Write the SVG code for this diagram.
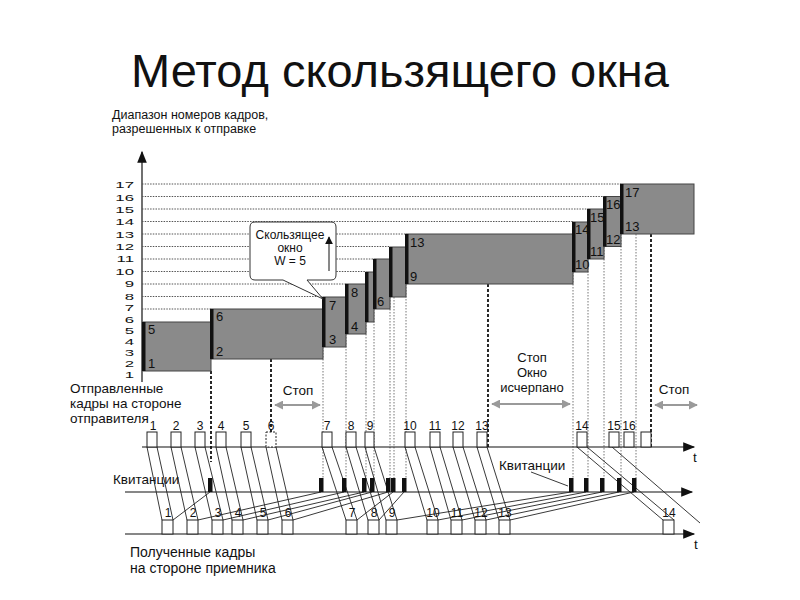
<svg xmlns="http://www.w3.org/2000/svg" width="800" height="600" viewBox="0 0 800 600">
<defs>
<style>
text{font-family:"Liberation Sans",Arial,sans-serif;fill:#111}
.t{font-size:47px}
.ax{font-size:12px;text-anchor:end}
.lb{font-size:12px;text-anchor:middle}
.bl{font-size:13px}
.cap{font-size:13.5px}
.kv{font-size:13.5px}
.sm{font-size:12.5px}
.co{font-size:12px;text-anchor:middle}
.grid{stroke:#555;stroke-width:1;stroke-dasharray:1.5 1.2}
.vd{stroke:#666;stroke-width:0.9;stroke-dasharray:1.5 1.5}
.sd{stroke:#111;stroke-width:1.8;stroke-dasharray:3 2}
.box{fill:#8a8a8a;stroke:#444;stroke-width:1}
.bar{fill:#111}
.ln{stroke:#222;stroke-width:0.9;fill:none}
.axl{stroke:#111;stroke-width:1.2;fill:none}
.fr{fill:#fff;stroke:#222;stroke-width:1}
.ack{fill:#111}
.gr{stroke:#9a9a9a;stroke-width:2;fill:none;marker-start:url(#ga);marker-end:url(#ga)}
</style>
<marker id="ah" viewBox="0 0 10 10" refX="9" refY="5" markerWidth="8" markerHeight="8" markerUnits="userSpaceOnUse" orient="auto"><path d="M0,0 L10,5 L0,10 z" fill="#111"/></marker>
<marker id="ahb" viewBox="0 0 10 10" refX="9" refY="5" markerWidth="14" markerHeight="12" markerUnits="userSpaceOnUse" orient="auto"><path d="M0,1 L10,5 L0,9 z" fill="#111"/></marker>
<marker id="ga" viewBox="0 0 10 10" refX="9" refY="5" markerWidth="9" markerHeight="9" markerUnits="userSpaceOnUse" orient="auto-start-reverse"><path d="M0,0 L10,5 L0,10 z" fill="#9a9a9a"/></marker>
</defs>
<rect width="800" height="600" fill="#fff"/>

<text class="t" x="400" y="87" text-anchor="middle">Метод скользящего окна</text>

<g id="y-axis">
<text class="sm" x="112" y="119">Диапазон номеров кадров,</text>
<text class="sm" x="112" y="133">разрешенных к отправке</text>
<line class="axl" x1="142" y1="382" x2="142" y2="152" marker-end="url(#ahb)"/>
<text class="ax" transform="translate(134,187.5) scale(1.4,0.8)">17</text>
<text class="ax" transform="translate(134,200.5) scale(1.4,0.8)">16</text>
<text class="ax" transform="translate(134,212.5) scale(1.4,0.8)">15</text>
<text class="ax" transform="translate(134,225) scale(1.4,0.8)">14</text>
<text class="ax" transform="translate(134,237.5) scale(1.4,0.8)">13</text>
<text class="ax" transform="translate(134,249.5) scale(1.4,0.8)">12</text>
<text class="ax" transform="translate(134,262) scale(1.4,0.8)">11</text>
<text class="ax" transform="translate(134,274.5) scale(1.4,0.8)">10</text>
<text class="ax" transform="translate(134,287) scale(1.4,0.8)">9</text>
<text class="ax" transform="translate(134,299.5) scale(1.4,0.8)">8</text>
<text class="ax" transform="translate(134,311) scale(1.4,0.8)">7</text>
<text class="ax" transform="translate(134,323) scale(1.4,0.8)">6</text>
<text class="ax" transform="translate(134,334) scale(1.4,0.8)">5</text>
<text class="ax" transform="translate(134,345) scale(1.4,0.8)">4</text>
<text class="ax" transform="translate(134,356) scale(1.4,0.8)">3</text>
<text class="ax" transform="translate(134,367) scale(1.4,0.8)">2</text>
<text class="ax" transform="translate(134,378) scale(1.4,0.8)">1</text>
</g>

<g id="grid">
<line class="grid" x1="142" y1="184" x2="621" y2="184"/>
<line class="grid" x1="142" y1="196.5" x2="604" y2="196.5"/>
<line class="grid" x1="142" y1="209" x2="588" y2="209"/>
<line class="grid" x1="142" y1="221.5" x2="573" y2="221.5"/>
<line class="grid" x1="142" y1="234" x2="406" y2="234"/>
<line class="grid" x1="142" y1="246.5" x2="390" y2="246.5"/>
<line class="grid" x1="142" y1="259" x2="374" y2="259"/>
<line class="grid" x1="142" y1="271.5" x2="366" y2="271.5"/>
<line class="grid" x1="142" y1="284" x2="346" y2="284"/>
<line class="grid" x1="142" y1="296.5" x2="323" y2="296.5"/>
<line class="grid" x1="142" y1="309" x2="211" y2="309"/>
</g>

<g id="verticals">
<line class="vd" x1="323" y1="347" x2="323" y2="478"/>
<line class="vd" x1="346" y1="334" x2="346" y2="478"/>
<line class="vd" x1="366" y1="322" x2="366" y2="478"/>
<line class="vd" x1="374" y1="309" x2="374" y2="478"/>
<line class="vd" x1="390" y1="297" x2="390" y2="478"/>
<line class="vd" x1="394" y1="297" x2="394" y2="478"/>
<line class="vd" x1="406" y1="284" x2="406" y2="478"/>
<line class="vd" x1="573" y1="272" x2="573" y2="478"/>
<line class="vd" x1="588" y1="259" x2="588" y2="478"/>
<line class="vd" x1="604" y1="247" x2="604" y2="478"/>
<line class="vd" x1="621" y1="234" x2="621" y2="478"/>
<line class="vd" x1="636" y1="234" x2="636" y2="478"/>
<line class="sd" x1="211" y1="371" x2="211" y2="462"/>
<line class="sd" x1="271" y1="359" x2="271" y2="447"/>
<line class="sd" x1="488" y1="284" x2="488" y2="447"/>
<line class="sd" x1="651" y1="234" x2="651" y2="447"/>
</g>

<g id="win-1-5"><rect class="box" x="143" y="322" width="68" height="49"/><rect class="bar" x="142" y="322" width="3.5" height="49"/><text class="bl" x="148" y="334">5</text><text class="bl" x="148" y="368">1</text></g>
<g id="win-2-6"><rect class="box" x="211" y="309" width="112" height="50"/><rect class="bar" x="210" y="309" width="3.5" height="50"/><text class="bl" x="216" y="321">6</text><text class="bl" x="216" y="356">2</text></g>
<g id="win-3-7"><rect class="box" x="323" y="297" width="23" height="50"/><rect class="bar" x="322" y="297" width="3.5" height="50"/><text class="bl" x="329" y="310">7</text><text class="bl" x="329" y="344">3</text></g>
<g id="win-4-8"><rect class="box" x="346" y="284" width="20" height="50"/><rect class="bar" x="345" y="284" width="3.5" height="50"/><text class="bl" x="351" y="297">8</text><text class="bl" x="351" y="331">4</text></g>
<g id="win-5-9"><rect class="box" x="366" y="272" width="8" height="50"/><rect class="bar" x="365" y="272" width="3.5" height="50"/></g>
<g id="win-6-10"><rect class="box" x="374" y="259" width="16" height="50"/><rect class="bar" x="373" y="259" width="3.5" height="50"/><text class="bl" x="377" y="306">6</text></g>
<g id="win-7-11"><rect class="box" x="390" y="247" width="16" height="50"/><rect class="bar" x="389" y="247" width="3.5" height="50"/></g>
<g id="win-9-13"><rect class="box" x="406" y="234" width="167" height="50"/><rect class="bar" x="405" y="234" width="3.5" height="50"/><text class="bl" x="410" y="247">13</text><text class="bl" x="410" y="281">9</text></g>
<g id="win-10-14"><rect class="box" x="573" y="222" width="15" height="50"/><rect class="bar" x="572" y="222" width="3.5" height="50"/><text class="bl" x="575" y="234">14</text><text class="bl" x="575" y="269">10</text></g>
<g id="win-11-15"><rect class="box" x="588" y="209" width="16" height="50"/><rect class="bar" x="587" y="209" width="3.5" height="50"/><text class="bl" x="590" y="222">15</text><text class="bl" x="590" y="256">11</text></g>
<g id="win-12-16"><rect class="box" x="604" y="196.5" width="17" height="50"/><rect class="bar" x="603" y="196.5" width="3.5" height="50"/><text class="bl" x="606" y="209">16</text><text class="bl" x="606" y="244">12</text></g>
<g id="win-13-17"><rect class="box" x="621" y="184" width="73" height="50"/><rect class="bar" x="620" y="184" width="3.5" height="50"/><text class="bl" x="625" y="197">17</text><text class="bl" x="625" y="231">13</text></g>

<g id="callout">
<path d="M255,222 H331 Q336,222 336,227 V275 Q336,280 331,280 H307 L323,299 L283,280 H255 Q250,280 250,275 V227 Q250,222 255,222 Z" fill="#fff" stroke="#333" stroke-width="1"/>
<text class="co" x="290" y="239">Скользящее</text>
<text class="co" x="290" y="252">окно</text>
<text class="co" x="290" y="265">W = 5</text>
<line x1="329" y1="271" x2="329" y2="237" stroke="#111" stroke-width="1" marker-end="url(#ah)"/>
</g>

<g id="labels">
<text class="cap" x="70" y="393">Отправленные</text>
<text class="cap" x="70" y="408">кадры на стороне</text>
<text class="cap" x="70" y="423">отправителя</text>
<text class="kv" x="113" y="484">Квитанции</text>
<text class="kv" x="499" y="470">Квитанции</text>
<text class="cap" x="130" y="557" style="font-size:14px">Полученные кадры</text>
<text class="cap" x="130" y="573" style="font-size:14px">на стороне приемника</text>
<text class="cap" x="298" y="395" text-anchor="middle">Стоп</text>
<text class="cap" x="532" y="362" text-anchor="middle" style="font-size:13px">Стоп</text>
<text class="cap" x="532" y="377" text-anchor="middle" style="font-size:13px">Окно</text>
<text class="cap" x="532" y="392" text-anchor="middle" style="font-size:13px">исчерпано</text>
<text class="cap" x="674" y="394" text-anchor="middle">Стоп</text>
<text class="cap" x="693" y="462">t</text>
<text class="cap" x="694" y="549">t</text>
</g>

<g id="stop-arrows">
<line class="gr" x1="275" y1="405" x2="320" y2="405"/>
<line class="gr" x1="492" y1="404" x2="570" y2="404"/>
<line class="gr" x1="655" y1="405" x2="697" y2="405"/>
</g>

<g id="time-axes">
<line class="axl" x1="142" y1="447" x2="694" y2="447" marker-end="url(#ahb)"/>
<line class="axl" x1="125" y1="492" x2="692" y2="492" marker-end="url(#ahb)"/>
<line class="axl" x1="125" y1="534" x2="694" y2="534" marker-end="url(#ahb)"/>
</g>

<g id="connectors">
<path class="ln" d="M147,447 L162,520 M157,447 L173,520"/>
<path class="ln" d="M171,447 L187,520 M181,447 L198,520"/>
<path class="ln" d="M195,447 L212,520 M205,447 L223,520"/>
<path class="ln" d="M216,447 L232,520 M226,447 L243,520"/>
<path class="ln" d="M241,447 L257,520 M251,447 L268,520"/>
<path class="ln" d="M266,447 L282,520 M276,447 L293,520"/>
<path class="ln" d="M322,447 L346,520 M332,447 L357,520"/>
<path class="ln" d="M346,447 L368,520 M356,447 L379,520"/>
<path class="ln" d="M365,447 L386,520 M374,447 L397,520"/>
<path class="ln" d="M405,447 L427,520 M415,447 L438,520"/>
<path class="ln" d="M430,447 L451,520 M440,447 L462,520"/>
<path class="ln" d="M453,447 L475,520 M463,447 L486,520"/>
<path class="ln" d="M477,447 L499,520 M487,447 L510,520"/>
<path class="ln" d="M577,447 L663,520 M587,447 L674,520"/>
<path class="ln" d="M612,447 L700,523"/>
<path class="ln" d="M173,520 L210,492"/>
<path class="ln" d="M198,520 L321,492"/>
<path class="ln" d="M223,520 L344,492"/>
<path class="ln" d="M243,520 L364,492"/>
<path class="ln" d="M268,520 L372,492"/>
<path class="ln" d="M293,520 L388,492"/>
<path class="ln" d="M357,520 L393,492"/>
<path class="ln" d="M379,520 L404,492"/>
<path class="ln" d="M397,520 L571,492"/>
<path class="ln" d="M438,520 L586,492"/>
<path class="ln" d="M462,520 L602,492"/>
<path class="ln" d="M486,520 L619,492"/>
<path class="ln" d="M510,520 L634,492"/>
<path class="ln" d="M531,472 L568,486"/>
</g>

<g id="acks">
<rect class="ack" x="208" y="478" width="4.5" height="14"/>
<rect class="ack" x="319" y="478" width="4.5" height="14"/>
<rect class="ack" x="342" y="478" width="4.5" height="14"/>
<rect class="ack" x="362" y="478" width="4.5" height="14"/>
<rect class="ack" x="370" y="478" width="4.5" height="14"/>
<rect class="ack" x="386" y="478" width="4.5" height="14"/>
<rect class="ack" x="391" y="478" width="4.5" height="14"/>
<rect class="ack" x="402" y="478" width="4.5" height="14"/>
<rect class="ack" x="569" y="478" width="4.5" height="14"/>
<rect class="ack" x="584" y="478" width="4.5" height="14"/>
<rect class="ack" x="600" y="478" width="4.5" height="14"/>
<rect class="ack" x="617" y="478" width="4.5" height="14"/>
<rect class="ack" x="632" y="478" width="4.5" height="14"/>
</g>

<g id="sent-frames">
<g id="s1"><rect class="fr" x="147" y="432" width="10" height="15"/><text class="lb" x="153" y="430">1</text></g>
<g id="s2"><rect class="fr" x="171" y="432" width="10" height="15"/><text class="lb" x="176" y="430">2</text></g>
<g id="s3"><rect class="fr" x="195" y="432" width="10" height="15"/><text class="lb" x="200" y="430">3</text></g>
<g id="s4"><rect class="fr" x="216" y="432" width="10" height="15"/><text class="lb" x="221" y="430">4</text></g>
<g id="s5"><rect class="fr" x="241" y="432" width="10" height="15"/><text class="lb" x="246" y="430">5</text></g>
<g id="s6"><rect class="fr" x="266" y="432" width="10" height="15" stroke-dasharray="2 1.5"/><text class="lb" x="271" y="430">6</text></g>
<g id="s7"><rect class="fr" x="322" y="432" width="10" height="15"/><text class="lb" x="327" y="430">7</text></g>
<g id="s8"><rect class="fr" x="346" y="432" width="10" height="15"/><text class="lb" x="351" y="430">8</text></g>
<g id="s9"><rect class="fr" x="365" y="432" width="9" height="15"/><text class="lb" x="370" y="430">9</text></g>
<g id="s10"><rect class="fr" x="405" y="432" width="10" height="15"/><text class="lb" x="410" y="430">10</text></g>
<g id="s11"><rect class="fr" x="430" y="432" width="10" height="15"/><text class="lb" x="435" y="430">11</text></g>
<g id="s12"><rect class="fr" x="453" y="432" width="10" height="15"/><text class="lb" x="458" y="430">12</text></g>
<g id="s13"><rect class="fr" x="477" y="432" width="10" height="15"/><text class="lb" x="482" y="430">13</text></g>
<g id="s14"><rect class="fr" x="577" y="432" width="10" height="15"/><text class="lb" x="582" y="430">14</text></g>
<g id="s15"><rect class="fr" x="609" y="432" width="10" height="15"/><text class="lb" x="614" y="430">15</text></g>
<g id="s16"><rect class="fr" x="624" y="432" width="10" height="15"/><text class="lb" x="629" y="430">16</text></g>
<g id="s17"><rect class="fr" x="641" y="432" width="10" height="15"/></g>
</g>

<g id="received-frames">
<g id="r1"><rect class="fr" x="162" y="520" width="11" height="14"/><text class="lb" x="168" y="517">1</text></g>
<g id="r2"><rect class="fr" x="187" y="520" width="11" height="14"/><text class="lb" x="193" y="517">2</text></g>
<g id="r3"><rect class="fr" x="212" y="520" width="11" height="14"/><text class="lb" x="218" y="517">3</text></g>
<g id="r4"><rect class="fr" x="232" y="520" width="11" height="14"/><text class="lb" x="238" y="517">4</text></g>
<g id="r5"><rect class="fr" x="257" y="520" width="11" height="14"/><text class="lb" x="263" y="517">5</text></g>
<g id="r6"><rect class="fr" x="282" y="520" width="11" height="14"/><text class="lb" x="288" y="517">6</text></g>
<g id="r7"><rect class="fr" x="346" y="520" width="11" height="14"/><text class="lb" x="352" y="517">7</text></g>
<g id="r8"><rect class="fr" x="368" y="520" width="11" height="14"/><text class="lb" x="374" y="517">8</text></g>
<g id="r9"><rect class="fr" x="386" y="520" width="11" height="14"/><text class="lb" x="392" y="517">9</text></g>
<g id="r10"><rect class="fr" x="427" y="520" width="11" height="14"/><text class="lb" x="433" y="517">10</text></g>
<g id="r11"><rect class="fr" x="451" y="520" width="11" height="14"/><text class="lb" x="457" y="517">11</text></g>
<g id="r12"><rect class="fr" x="475" y="520" width="11" height="14"/><text class="lb" x="481" y="517">12</text></g>
<g id="r13"><rect class="fr" x="499" y="520" width="11" height="14"/><text class="lb" x="505" y="517">13</text></g>
<g id="r14"><rect class="fr" x="663" y="520" width="11" height="14"/><text class="lb" x="669" y="517">14</text></g>
</g>
</svg>
